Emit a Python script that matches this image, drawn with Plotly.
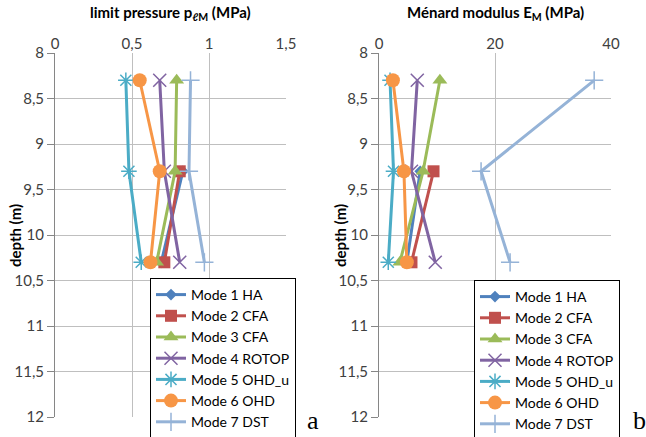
import plotly.graph_objects as go

depth3 = [8.3, 9.3, 10.3]
depth2 = [9.3, 10.3]

modes = ["Mode 1 HA", "Mode 2 CFA", "Mode 3 CFA", "Mode 4 ROTOP",
         "Mode 5 OHD_u", "Mode 6 OHD", "Mode 7 DST"]
colors = ["#4F81BD", "#C0504D", "#9BBB59", "#8064A2", "#4BACC6", "#F79646", "#95B3D7"]
symbols = ["diamond", "square", "triangle-up", "x-thin-open", "asterisk-open", "circle", "cross-thin-open"]
msizes = [9, 12, 13, 13, 13, 14, 13]

# limit pressure p_lM (MPa)
pl_values = {
    "Mode 1 HA": [0.83, 0.69],
    "Mode 2 CFA": [0.81, 0.71],
    "Mode 3 CFA": [0.79, 0.78, 0.66],
    "Mode 4 ROTOP": [0.68, 0.71, 0.81],
    "Mode 5 OHD_u": [0.46, 0.48, 0.56],
    "Mode 6 OHD": [0.55, 0.68, 0.62],
    "Mode 7 DST": [0.88, 0.87, 0.97],
}
# Menard modulus E_M (MPa)
em_values = {
    "Mode 1 HA": [7.1, 4.8],
    "Mode 2 CFA": [9.4, 5.6],
    "Mode 3 CFA": [10.5, 7.6, 3.6],
    "Mode 4 ROTOP": [6.6, 5.6, 9.7],
    "Mode 5 OHD_u": [1.9, 2.5, 1.6],
    "Mode 6 OHD": [2.4, 4.3, 4.8],
    "Mode 7 DST": [37.1, 17.6, 22.6],
}

x_ticks_left = [0, 0.5, 1, 1.5]
x_ticks_right = [0, 20, 40]
y_ticks = [8, 8.5, 9, 9.5, 10, 10.5, 11, 11.5, 12]

FONT = "Lato"
W, H = 646, 437

fig = go.Figure()
for i, m in enumerate(modes):
    for vals, xa, ya, lg in [(pl_values[m], "x", "y", "legend"), (em_values[m], "x2", "y2", "legend2")]:
        d = depth3 if len(vals) == 3 else depth2
        thin = symbols[i].endswith("-open")
        fig.add_trace(go.Scatter(
            x=vals, y=d, name=m, mode="lines+markers",
            xaxis=xa, yaxis=ya, legend=lg,
            line=dict(color=colors[i], width=3),
            marker=dict(symbol=symbols[i], size=msizes[i], color=colors[i],
                        line=dict(color=colors[i], width=1.5 if thin else 0)),
        ))

def px_x(p):
    return p / W

def px_y(p):
    return 1 - p / H

ydom = [px_y(417), px_y(53)]
grid = "#BFBFBF"
axcol = "#868686"
tickfont = dict(family=FONT, size=15, color="#404040")

common_y = dict(range=[12, 8], tickvals=y_ticks, showgrid=True, gridcolor=grid, gridwidth=1,
                showline=True, linecolor=axcol, linewidth=1, ticks="outside", ticklen=7,
                tickcolor=axcol, tickfont=tickfont, zeroline=False, domain=ydom)

legfont = dict(family=FONT, size=14, color="#000")

fig.update_layout(
    width=W, height=H, margin=dict(l=0, r=0, t=0, b=0, autoexpand=False),
    paper_bgcolor="white", plot_bgcolor="white",
    separators=", ",
    xaxis=dict(domain=[px_x(55), px_x(286)], range=[0, 1.5], tickvals=x_ticks_left, side="top",
               showgrid=True, gridcolor=grid, showline=False, ticks="", zeroline=False,
               tickfont=tickfont, anchor="y"),
    yaxis=dict(anchor="x", **common_y),
    xaxis2=dict(domain=[px_x(379), px_x(611)], range=[0, 40], tickvals=x_ticks_right, side="top",
                showgrid=True, gridcolor=grid, showline=False, ticks="", zeroline=False,
                tickfont=tickfont, anchor="y2"),
    yaxis2=dict(anchor="x2", **common_y),
    legend=dict(x=px_x(150), y=px_y(278), xanchor="left", yanchor="top",
                bgcolor="white", bordercolor="#000", borderwidth=1,
                font=legfont, tracegroupgap=0, itemwidth=30),
    legend2=dict(x=px_x(474), y=px_y(280), xanchor="left", yanchor="top",
                 bgcolor="white", bordercolor="#000", borderwidth=1,
                 font=legfont, tracegroupgap=0, itemwidth=30),
    showlegend=True,
)

titlefont = dict(family=FONT, size=15, color="#000")
fig.add_annotation(x=px_x(170), y=px_y(13), xref="paper", yref="paper", showarrow=False,
                   xanchor="center", yanchor="middle",
                   text="<b>limit pressure p<sub>ℓM</sub> (MPa)</b>", font=titlefont)
fig.add_annotation(x=px_x(495), y=px_y(13), xref="paper", yref="paper", showarrow=False,
                   xanchor="center", yanchor="middle",
                   text="<b>Ménard modulus E<sub>M</sub> (MPa)</b>", font=titlefont)
for xp in (15, 340):
    fig.add_annotation(x=px_x(xp), y=px_y(236), xref="paper", yref="paper", showarrow=False,
                       xanchor="center", yanchor="middle", textangle=-90,
                       text="<b>depth (m)</b>", font=dict(family=FONT, size=15, color="#000"))
fig.add_annotation(x=px_x(313), y=0, xref="paper", yref="paper", showarrow=False,
                   xanchor="center", yanchor="bottom",
                   text="a", font=dict(family="Liberation Serif", size=26, color="#000"))
fig.add_annotation(x=px_x(639), y=0, xref="paper", yref="paper", showarrow=False,
                   xanchor="center", yanchor="bottom",
                   text="b", font=dict(family="Liberation Serif", size=26, color="#000"))

fig.write_html("out.html")
